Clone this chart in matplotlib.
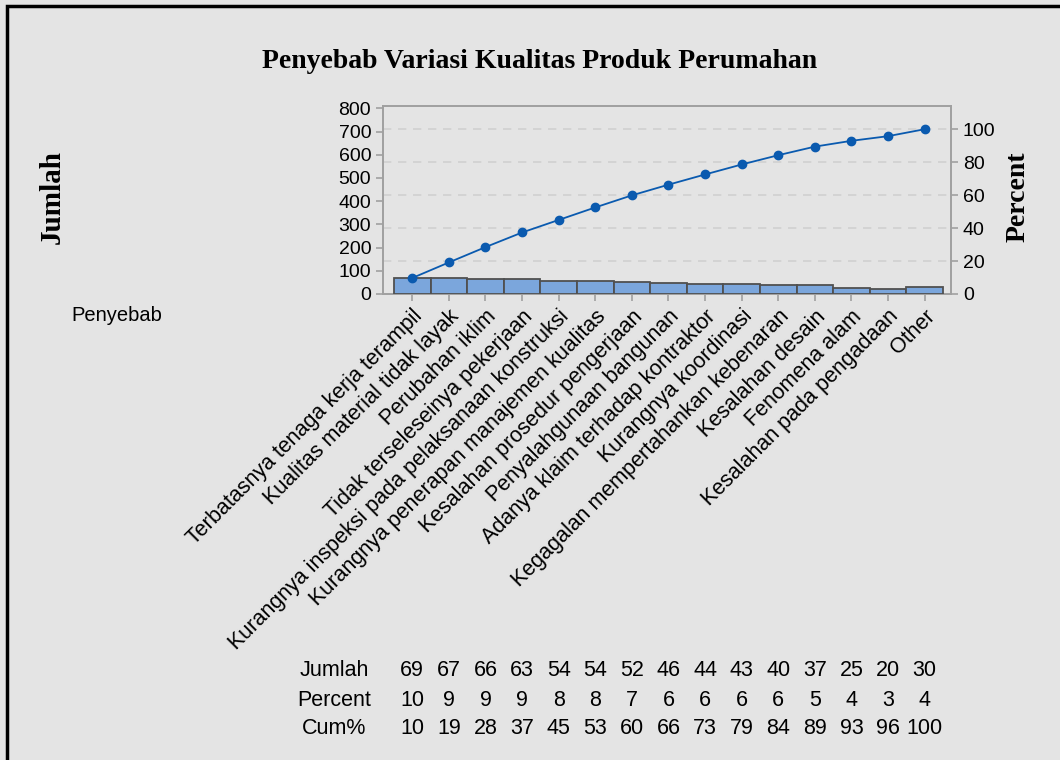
import numpy as np
import matplotlib
matplotlib.use("Agg")
import matplotlib.pyplot as plt
from matplotlib.patches import Rectangle

# data
penyebab = [
    "Terbatasnya tenaga kerja terampil",
    "Kualitas material tidak layak",
    "Perubahan iklim",
    "Tidak terseleseinya pekerjaan",
    "Kurangnya inspeksi pada pelaksanaan konstruksi",
    "Kurangnya penerapan manajemen kualitas",
    "Kesalahan prosedur pengerjaan",
    "Penyalahgunaan bangunan",
    "Adanya klaim terhadap kontraktor",
    "Kurangnya koordinasi",
    "Kegagalan mempertahankan kebenaran",
    "Kesalahan desain",
    "Fenomena alam",
    "Kesalahan pada pengadaan",
    "Other",
]
jumlah = [69, 67, 66, 63, 54, 54, 52, 46, 44, 43, 40, 37, 25, 20, 30]
percent = [10, 9, 9, 9, 8, 8, 7, 6, 6, 6, 6, 5, 4, 3, 4]
cum_pct = [10, 19, 28, 37, 45, 53, 60, 66, 73, 79, 84, 89, 93, 96, 100]

sans = ["Liberation Sans", "DejaVu Sans"]
serif = ["Liberation Serif", "DejaVu Serif"]
plt.rcParams["font.family"] = sans

bg = "#e4e4e4"
fig = plt.figure(figsize=(10.6, 7.6), dpi=100, facecolor=bg)
ax = fig.add_axes([383 / 1060, 1 - 294 / 760, 568 / 1060, 188 / 760])

x = np.arange(len(jumlah))
total = sum(jumlah)
cum = np.cumsum(jumlah)

ax.bar(x, jumlah, width=1.0, color="#7ba6dc", edgecolor="#505050", linewidth=1.3, zorder=3)
ax.plot(x, cum, color="#0a5aaf", marker="o", markersize=6, linewidth=1.3, zorder=4)

ymax = 810
ax.set_xlim(-0.8, 14.72)
ax.set_ylim(0, ymax)
ax.set_yticks(range(0, 801, 100))
ax.set_xticks(x)
ax.set_xticklabels(penyebab, rotation=45, ha="right", va="top",
                   rotation_mode="anchor", fontsize=15.5)

ax2 = ax.twinx()
ax2.set_ylim(0, ymax / total * 100)
ax2.set_yticks(range(0, 101, 20))
for v in range(20, 101, 20):
    ax2.axhline(v, color="#d0d0d0", linestyle=(0, (5, 4)), linewidth=1.2, zorder=0)
ax.set_zorder(ax2.get_zorder() + 1)
ax.patch.set_visible(False)
ax2.set_facecolor("white")

for a in (ax, ax2):
    for s in a.spines.values():
        s.set_color("#a0a0a0")
        s.set_linewidth(1.2)
    a.tick_params(axis="y", colors="#a0a0a0", labelcolor="black", labelsize=14,
                  length=5, width=1.2)
ax.tick_params(axis="x", colors="#a0a0a0", labelcolor="black", length=5, width=1.2)

fig.text(540 / 1060, 1 - 62 / 760, "Penyebab Variasi Kualitas Produk Perumahan",
         ha="center", va="center", fontsize=20, fontweight="bold", family=serif)
fig.text(52 / 1060, 1 - 197 / 760, "Jumlah", rotation=90, ha="center", va="center",
         fontsize=21, fontweight="bold", family=serif)
fig.text(1018 / 1060, 1 - 197 / 760, "Percent", rotation=90, ha="center", va="center",
         fontsize=20, fontweight="bold", family=serif)
fig.text(117 / 1060, 1 - 316 / 760, "Penyebab", ha="center", va="center", fontsize=14.5)

# table under the chart
rows = [("Jumlah", jumlah, 670), ("Percent", percent, 700), ("Cum%", cum_pct, 728)]
for name, vals, ypix in rows:
    fig.text(334 / 1060, 1 - ypix / 760, name, ha="center", va="center", fontsize=15.5)
    for i, v in enumerate(vals):
        xf = fig.transFigure.inverted().transform(ax.transData.transform((i, 0)))[0]
        fig.text(xf, 1 - ypix / 760, str(v), ha="center", va="center", fontsize=15.5)

fig.patches.append(Rectangle((7 / 1060, -0.1), 1.2, 1 - 6 / 760 + 0.1,
                             transform=fig.transFigure, fill=False,
                             edgecolor="black", linewidth=2.5))

fig.savefig("out.png", dpi=100, facecolor=bg)
